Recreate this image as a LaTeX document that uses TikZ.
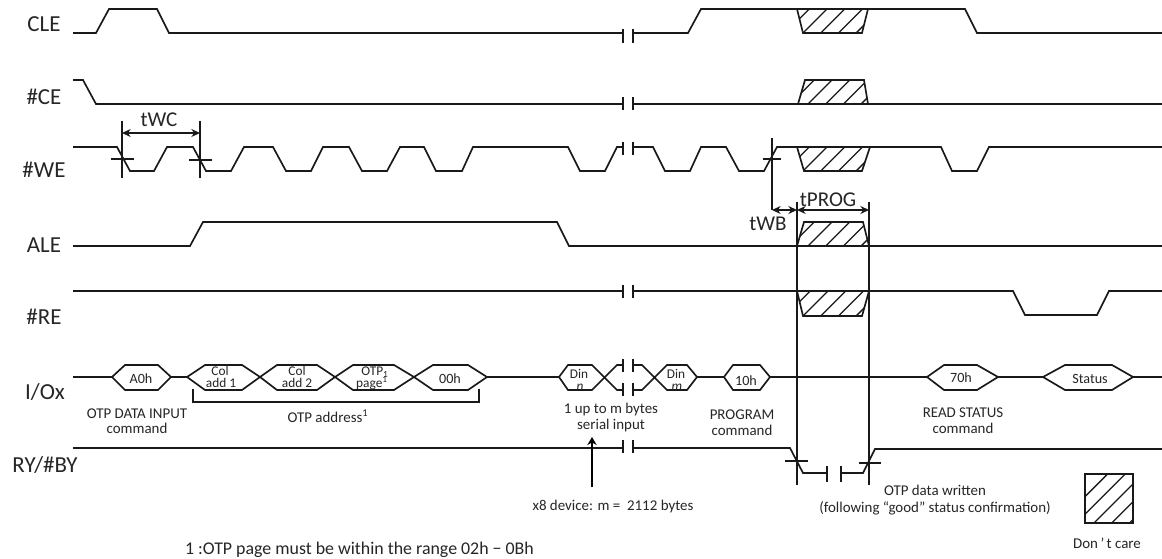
\documentclass[tikz,border=0pt]{standalone}
\usepackage{fontspec}
\setmainfont{Carlito}
\usetikzlibrary{arrows.meta}
\newcommand\hatchbox[3]{%
  \begin{scope}
    \clip #1;
    \foreach \hx in {-2,-1,0,1,2,3,4,5,6} {
      \draw[hatchline] ({#3+\hx*17.7},#2) -- ++(50,-50);
    }
  \end{scope}
  \draw[wave] #1;
}
\newcommand\gapbar[3]{%
  \draw[wave] (623,#1) -- (623,#2);
  \draw[wave] (633,#1) -- (633,#2);
}
\tikzset{
  wave/.style={line width=1.25pt,line join=miter,color=black!90},
  hatchline/.style={line width=0.95pt,color=black!90},
  thin line/.style={line width=1.15pt,color=black!90},
  dim/.style={line width=1.1pt,color=black!90,{Stealth[length=6.5pt,width=6pt]}-{Stealth[length=6.5pt,width=6pt]}},
  txt/.style={inner sep=0,outer sep=0,anchor=base,text=black!85},
  siglab/.style={txt,font=\fontsize{17.2}{20}\selectfont},
  timelab/.style={txt,font=\fontsize{15.8}{18}\selectfont},
  note/.style={txt,font=\fontsize{11.2}{13}\selectfont},
  hex/.style={txt,font=\fontsize{10.6}{12}\selectfont},
  hexsmall/.style={txt,font=\fontsize{10}{10}\selectfont},
  foot/.style={txt,font=\fontsize{13.4}{16}\selectfont},
}
\begin{document}
\begin{tikzpicture}[x=0.75pt,y=-0.75pt]
\useasboundingbox (0,0) rectangle (1162,559);
\fill[white] (0,0) rectangle (1162,559);

% signal names
\node[siglab] (nCLE) at (44,32) {CLE};
\node[siglab] (nCE) at (44,105) {\#CE};
\node[siglab] (nWE) at (44,178) {\#WE};
\node[siglab] (nALE) at (44,253) {ALE};
\node[siglab] (nRE) at (44,325) {\#RE};
\node[siglab] (nIO) at (45,399) {I/Ox};
\node[siglab] (nRY) at (45,472) {RY/\#BY};

% CLE
\draw[wave] (73,33) -- (96,33) -- (109,9) -- (157,9) -- (169,33) -- (623,33);
\draw[wave] (633,33) -- (688,33) -- (701,9) -- (965,9) -- (977,33) -- (1162,33);
\draw[wave] (623,29) -- (623,43) (633,29) -- (633,43);
\hatchbox{(797,9) -- (868,9) -- (862,33) -- (803,33) -- cycle}{33}{803}

% #CE
\draw[wave] (73,80) -- (83,80) -- (96,104) -- (623,104);
\draw[wave] (633,104) -- (1162,104);
\draw[wave] (623,97) -- (623,110) (633,97) -- (633,110);
\hatchbox{(805,80) -- (864,80) -- (868,104) -- (798,104) -- cycle}{104}{808}

% #WE
\draw[wave] (73,147) -- (117,147) -- (130,171) -- (154,171) -- (167,147) -- (193,147)
  -- (206,171) -- (231,171) -- (244,147) -- (273,147) -- (286,171) -- (311,171)
  -- (323,147) -- (349,147) -- (362,171) -- (387,171) -- (400,147) -- (424,147)
  -- (436,171) -- (462,171) -- (473,147) -- (568,147) -- (580,171) -- (605,171)
  -- (617,147) -- (623,147);
\draw[wave] (633,147) -- (653,147) -- (665,171) -- (690,171) -- (701,147) -- (726,147)
  -- (739,171) -- (764,171) -- (777,147) -- (941,147) -- (952,171) -- (977,171)
  -- (989,147) -- (1162,147);
\draw[wave] (623,142) -- (623,155) (633,142) -- (633,155);
\hatchbox{(797,147) -- (870,147) -- (862,171) -- (804,171) -- cycle}{171}{803}

% #WE markers
\draw[thin line] (122,121) -- (122,178) (111,159) -- (134,159);
\draw[thin line] (200,121) -- (200,178) (189,160) -- (212,160);
\draw[thin line] (772,138) -- (772,210) (763,159) -- (781,159);
\draw[dim] (122,133) -- (200,133);
\node[timelab] (tWC) at (159,127) {tWC};

% ALE
\draw[wave] (73,246) -- (190,246) -- (203,222) -- (557,222) -- (569,246) -- (1162,246);
\hatchbox{(804,222) -- (863,222) -- (869,246) -- (797,246) -- cycle}{246}{808}

% #RE
\draw[wave] (73,291) -- (623,291);
\draw[wave] (633,291) -- (1013,291) -- (1025,315) -- (1097,315) -- (1109,291) -- (1162,291);
\draw[wave] (623,285) -- (623,298) (633,285) -- (633,298);
\hatchbox{(797,291) -- (869,291) -- (862,316) -- (803,316) -- cycle}{316}{803}

% timing verticals
\draw[thin line] (797,202) -- (797,485);
\draw[thin line] (869,202) -- (869,485);
\draw[dim] (772,210) -- (797,210);
\draw[dim] (797,210) -- (869,210);
\node[timelab] (tWB) at (768,231) {tWB};
\node[timelab] (tPROG) at (828,207) {tPROG};

% I/O line
\draw[wave] (73,377) -- (112,377);
\draw[wave] (112,377) -- (125,365) -- (158,365) -- (171,377) -- (158,390) -- (125,390) -- cycle;
\draw[wave] (171,377) -- (187,377);
\draw[wave] (187,377) -- (205,365) -- (242,365) -- (260,377) -- (242,390) -- (205,390) -- cycle;
\draw[wave] (260,377) -- (277,365) -- (317,365) -- (335,377) -- (317,390) -- (277,390) -- cycle;
\draw[wave] (335,377) -- (353,365) -- (394,365) -- (414,377) -- (394,390) -- (353,390) -- cycle;
\draw[wave] (414,377) -- (433,365) -- (468,365) -- (487,377) -- (468,390) -- (433,390) -- cycle;
\draw[wave] (487,377) -- (559,377);
\draw[wave] (559,377) -- (568,365) -- (592,365) -- (617,390) -- (623,390);
\draw[wave] (559,377) -- (568,390) -- (592,390) -- (617,365) -- (623,365);
\draw[wave] (633,365) -- (642,365) -- (667,390) -- (687,390) -- (697,377) -- (687,365) -- (667,365) -- (642,390) -- (633,390);
\draw[wave] (623,359) -- (623,372) (633,359) -- (633,372) (623,383) -- (623,396) (633,383) -- (633,396);
\draw[wave] (697,377) -- (724,377);
\draw[wave] (724,377) -- (733,365) -- (760,365) -- (770,377) -- (760,390) -- (733,390) -- cycle;
\draw[wave] (770,377) -- (927,377);
\draw[wave] (927,377) -- (944,365) -- (977,365) -- (998,377) -- (977,390) -- (944,390) -- cycle;
\draw[wave] (998,377) -- (1043,377);
\draw[wave] (1043,377) -- (1065,365) -- (1112,365) -- (1133,377) -- (1112,390) -- (1065,390) -- cycle;
\draw[wave] (1133,377) -- (1162,377);

% hexagon text
\node[hex] (hA0) at (141,383) {A0h};
\node[hexsmall] (hC1a) at (220,375) {Col};
\node[hexsmall] (hC1b) at (221,387) {add 1};
\node[hexsmall] (hC2a) at (297,375) {Col};
\node[hexsmall] (hC2b) at (297,387) {add 2};
\node[hexsmall] (hOa) at (375,375) {OTP\textsubscript{1}};
\node[hexsmall] (hOb) at (372,387) {page\textsuperscript{1}};
\node[hex] (h00) at (450,383) {00h};
\node[hexsmall] (hDna) at (579,378) {Din};
\node[hexsmall] (hDnb) at (580,390) {\itshape n};
\node[hexsmall] (hDma) at (676,378) {Din};
\node[hexsmall] (hDmb) at (677,390) {\itshape m};
\node[hex] (h10) at (746,385) {10h};
\node[hex] (h70) at (961,382) {70h};
\node[hex] (hSt) at (1090,383) {Status};

% I/O annotations
\node[note] (lA1) at (137,418) {OTP DATA INPUT};
\node[note] (lA2) at (137,433) {command};
\draw[wave] (193,389) -- (193,402) -- (479,402) -- (479,389);
\node[note] (lB) at (328,422) {OTP address\textsuperscript{1}};
\node[note] (lC1) at (611,413) {1 up to m bytes};
\node[note] (lC2) at (611,429) {serial input};
\node[note] (lD1) at (742,419) {PROGRAM};
\node[note] (lD2) at (742,435) {command};
\node[note] (lE1) at (963,417) {READ STATUS};
\node[note] (lE2) at (963,433) {command};

% RY/#BY
\draw[wave] (73,448) -- (623,448);
\draw[wave] (633,448) -- (790,448) -- (803,473) -- (827,473);
\draw[wave] (841,473) -- (863,473) -- (875,449) -- (1162,449);
\draw[wave] (623,440) -- (623,453) (633,440) -- (633,453);
\draw[wave] (827,466) -- (827,482) (841,466) -- (841,482);
\draw[thin line] (785,461) -- (808,461) (859,463) -- (881,463);

\coordinate (arrowfoot) at (592,487);
\coordinate (arrowhead) at (592,437);
\draw[line width=1.1pt,-{Stealth[length=6pt,width=7pt]}] (arrowfoot) -- (arrowhead);
\node[note] (lF) at (613,510) {x8 device: m =\ \ 2112 bytes};
\node[note] (lG1) at (935,495) {OTP data written};
\node[note] (lG2) at (935,512) {(following “good” status confirmation)};

% legend
\hatchbox{(1085,474) -- (1133,474) -- (1133,523) -- (1085,523) -- cycle}{523}{1094}
\node[note] (lH) at (1107,548) {Don\,’\,t care};

% footnote
\node[foot,anchor=base west] (lNote) at (185,554) {1 :OTP page must be within the range 02h − 0Bh};
\end{tikzpicture}
\end{document}
